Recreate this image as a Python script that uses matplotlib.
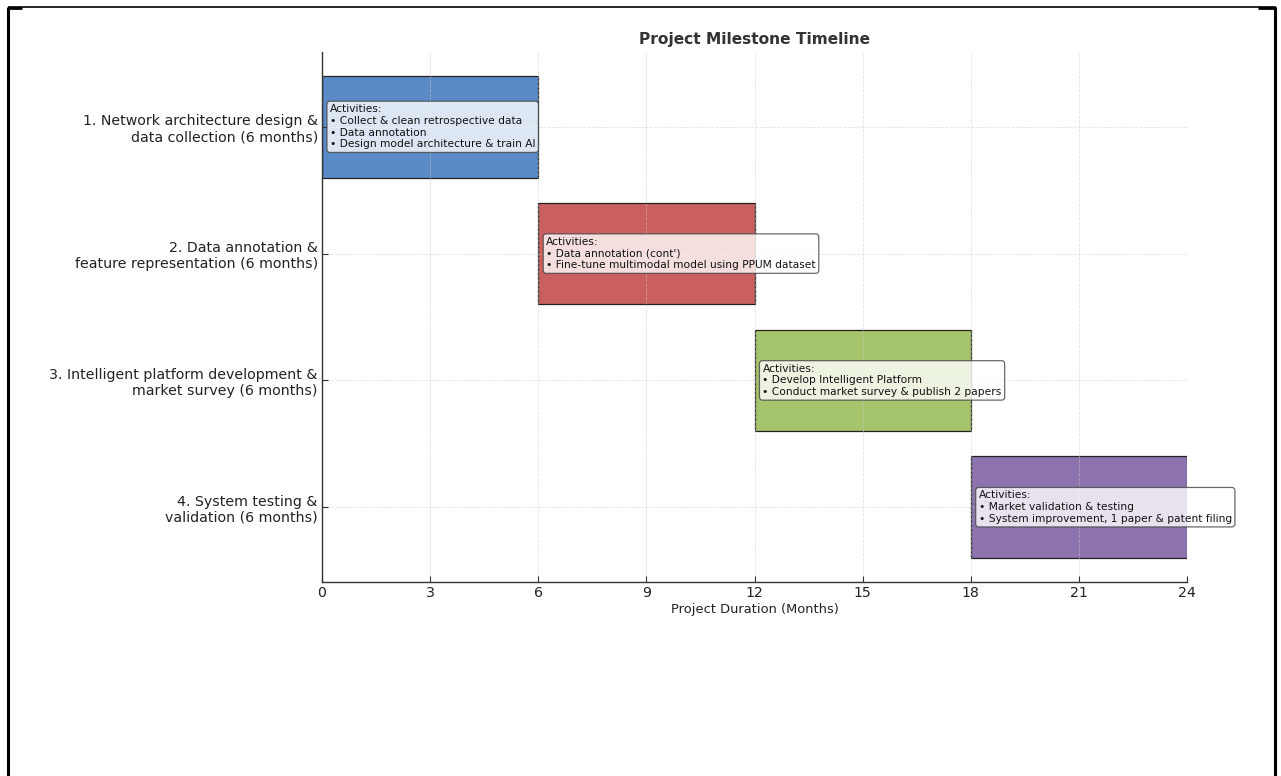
import matplotlib
matplotlib.use("Agg")
import matplotlib.pyplot as plt
from matplotlib.lines import Line2D

phases = [
    "1. Network architecture design &\ndata collection (6 months)",
    "2. Data annotation &\nfeature representation (6 months)",
    "3. Intelligent platform development &\nmarket survey (6 months)",
    "4. System testing &\nvalidation (6 months)",
]
starts = [0, 6, 12, 18]
durations = [6, 6, 6, 6]
colors = ["#5b8bc6", "#c95f5f", "#a6c46b", "#8d74ae"]
activities = [
    ["Collect & clean retrospective data", "Data annotation", "Design model architecture & train AI"],
    ["Data annotation (cont')", "Fine-tune multimodal model using PPUM dataset"],
    ["Develop Intelligent Platform", "Conduct market survey & publish 2 papers"],
    ["Market validation & testing", "System improvement, 1 paper & patent filing"],
]
xticks = [0, 3, 6, 9, 12, 15, 18, 21, 24]

fig = plt.figure(figsize=(12.81, 7.76), dpi=100)
ax = fig.add_axes([322/1281, 1-582/776, (1187-322)/1281, (582-52)/776])

ypos = list(range(len(phases)))
ax.barh(ypos, durations, left=starts, height=0.8, color=colors,
        edgecolor="#222222", linewidth=0.9, zorder=2)

for y, s, acts in zip(ypos, starts, activities):
    txt = "Activities:\n" + "\n".join("\u2022 " + a for a in acts)
    ax.text(s + 0.22, y, txt, va="center", ha="left", fontsize=7.65,
            color="#111111", zorder=5, linespacing=1.22,
            bbox=dict(boxstyle="round,pad=0.28", facecolor="white",
                      edgecolor="#444444", alpha=0.8, linewidth=0.9))

ax.set_yticks(ypos)
ax.set_yticklabels(phases, fontsize=10.2, color="#222222")
ax.set_xticks(xticks)
ax.set_xticklabels([str(t) for t in xticks], fontsize=10.2, color="#222222")
ax.set_xlim(0, 24)
ax.set_ylim(3.59, -0.59)
ax.set_xlabel("Project Duration (Months)", fontsize=9.4, color="#222222", labelpad=2)
ax.set_title("Project Milestone Timeline", fontsize=11.1, fontweight="bold",
             color="#333333", pad=6)
ax.grid(True, linestyle="--", color="#cccccc", linewidth=0.6, alpha=0.55, zorder=3)
ax.set_axisbelow(False)
for sp in ["top", "right"]:
    ax.spines[sp].set_visible(False)
for sp in ["left", "bottom"]:
    ax.spines[sp].set_color("#333333")
    ax.spines[sp].set_linewidth(1.0)
    ax.spines[sp].set_zorder(4)
ax.tick_params(axis="both", colors="#333333", direction="in", length=4, width=0.8, pad=3)
for lbl in ax.get_xticklabels() + ax.get_yticklabels():
    lbl.set_color("#222222")

# screenshot frame
W, H = 1281, 776
def fl(x0, y0, x1, y1, lw):
    fig.add_artist(Line2D([x0 / W, x1 / W], [1 - y0 / H, 1 - y1 / H],
                          transform=fig.transFigure, color="black", linewidth=lw,
                          solid_capstyle="butt"))
fl(8, 7, 1276, 7, 1.2)
fl(8, 7, 8, 776, 2.2)
fl(1275, 7, 1275, 776, 2.2)
fl(8, 7.5, 22, 7.5, 2.0)
fl(1258, 7.5, 1276, 7.5, 2.0)

fig.savefig("out.png", dpi=100)
